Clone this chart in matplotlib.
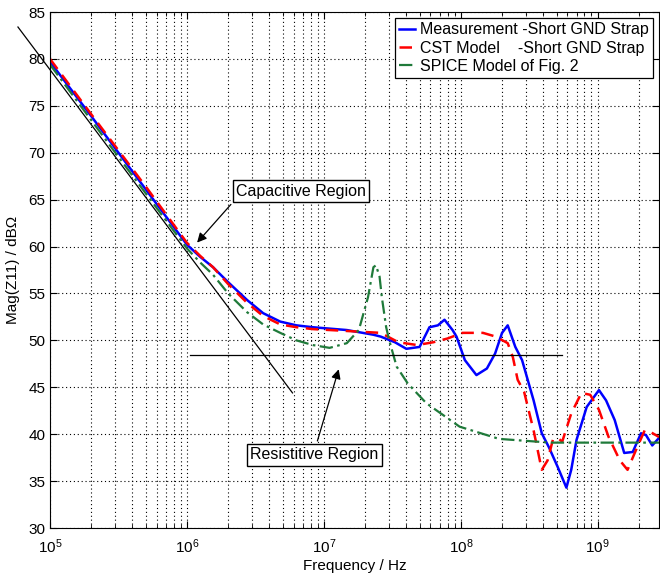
import numpy as np
import matplotlib
matplotlib.use('Agg')
import matplotlib.pyplot as plt
from matplotlib.ticker import LogLocator, NullFormatter

plt.rcParams['font.family'] = ['Liberation Sans', 'DejaVu Sans']

f_meas = [1e5, 2e5, 5e5, 1e6, 1.25e6, 1.55e6, 2e6, 2.75e6, 3.6e6, 4.8e6, 6.3e6, 8.3e6,
          1.47e7, 2.3e7, 2.6e7,
          3.3e7, 4.0e7, 5.0e7, 5.9e7, 6.8e7, 7.6e7, 8.7e7, 9.3e7, 1.07e8, 1.3e8,
          1.55e8, 1.78e8, 2.0e8, 2.2e8, 2.5e8, 2.8e8, 3.4e8, 3.9e8, 4.4e8, 5.1e8,
          5.9e8, 6.4e8, 7.0e8, 8.3e8, 1.02e9, 1.15e9, 1.33e9, 1.56e9, 1.8e9, 2.07e9,
          2.25e9, 2.5e9, 2.8e9]
z_meas = [79.7, 73.9, 66.1, 60.2, 58.9, 57.8, 56.2, 54.3, 52.9, 52.0, 51.6, 51.4,
          51.1, 50.6, 50.4,
          49.8, 49.1, 49.3, 51.4, 51.6, 52.2, 51.1, 50.4, 47.9, 46.3,
          47.0, 48.6, 50.8, 51.6, 49.3, 47.9, 43.6, 40.1, 38.6, 36.5,
          34.3, 36.2, 39.4, 42.9, 44.7, 43.6, 41.5, 38.0, 38.1, 40.1,
          39.9, 38.8, 39.6]

# CST model - short GND strap
f_cst = [1e5, 2e5, 5e5, 1e6, 1.25e6, 1.55e6, 2e6, 2.75e6, 3.6e6, 4.8e6, 6.3e6, 8.3e6,
         1.47e7, 2.6e7, 3.5e7,
         4.8e7, 6.3e7, 8.0e7, 1.03e8, 1.45e8, 1.8e8, 2.2e8, 2.4e8, 2.6e8, 2.9e8,
         3.4e8, 3.9e8, 4.3e8, 4.7e8, 5.1e8, 5.5e8, 6.4e8, 7.6e8, 8.8e8, 1.02e9,
         1.2e9, 1.45e9, 1.65e9, 1.9e9, 2.2e9, 2.45e9, 2.8e9]
z_cst = [80.0, 74.1, 66.4, 60.4, 59.0, 57.8, 56.0, 54.0, 52.6, 51.7, 51.4, 51.2,
         51.0, 50.8, 49.8,
         49.5, 49.8, 50.2, 50.8, 50.8, 50.4, 49.7, 48.2, 45.8, 44.5,
         40.4, 36.2, 37.2, 39.4, 39.6, 39.2, 42.2, 44.4, 44.2, 42.6,
         39.7, 37.2, 36.2, 38.3, 40.4, 40.2, 39.7]

# SPICE model of Fig. 2
f_spice = [1e5, 3e5, 1e6, 1.25e6, 1.55e6, 2e6, 2.75e6, 3.6e6, 4.8e6, 6.3e6, 8.3e6,
           1.1e7, 1.47e7, 1.8e7,
           2.1e7, 2.3e7, 2.4e7, 2.55e7, 2.65e7, 2.85e7, 3.0e7, 3.4e7, 4.1e7,
           5.6e7, 9.8e7, 1.9e8, 4.5e8, 1e9, 2.8e9]
z_spice = [79.4, 70.0, 59.8, 58.3, 57.0, 55.0, 53.0, 51.7, 50.8, 50.0, 49.5,
           49.2, 49.7, 51.1,
           54.6, 57.8, 58.0, 56.8, 54.6, 51.4, 50.0, 47.2, 45.4,
           43.3, 40.8, 39.5, 39.1, 39.1, 39.1]

# helper lines (capacitive slope and resistive level)
cap_f = [10**4.766, 5.9e6]
cap_z = [83.4, 44.4]
res_f = [1.05e6, 5.5e8]
res_z = [48.4, 48.4]

fig = plt.figure(figsize=(6.6, 5.76), dpi=100)
ax = fig.add_axes([50/660, 48/576, 609/660, 516/576])

ax.semilogx(f_meas, z_meas, color='#0000ff', lw=1.8, label='Measurement -Short GND Strap')
ax.semilogx(f_cst, z_cst, color='#ff0000', lw=1.8, ls=(0, (5, 3)), label='CST Model    -Short GND Strap')
ax.semilogx(f_spice, z_spice, color='#1f7a3a', lw=1.6, ls=(0, (6, 2, 1.2, 2)), label='SPICE Model of Fig. 2')
ax.plot(cap_f, cap_z, color='black', lw=0.9, clip_on=False)
ax.plot(res_f, res_z, color='black', lw=0.9)

ax.set_xlim(1e5, 2.8e9)
ax.set_ylim(30, 85)
ax.set_yticks(np.arange(30, 86, 5))
ax.xaxis.set_major_locator(LogLocator(base=10, numticks=12))
ax.xaxis.set_minor_locator(LogLocator(base=10, subs=np.arange(2, 10), numticks=12))
ax.xaxis.set_minor_formatter(NullFormatter())
ax.grid(True, which='major', color='black', ls=(0, (1, 2.5)), lw=0.8)
ax.grid(True, which='minor', axis='x', color='black', ls=(0, (1, 2.5)), lw=0.8)
ax.tick_params(which='both', direction='in', top=True, right=True, labelsize=11)
ax.tick_params(which='major', length=5)
ax.tick_params(which='minor', length=3)
ax.tick_params(axis='x', which='major', pad=7)

ax.set_xlabel('Frequency / Hz', fontsize=11, labelpad=2)
ax.set_ylabel('Mag(Z11) / dB\u03a9', fontsize=11, labelpad=6)

ax.annotate('Capacitive Region', xy=(1.15e6, 60.2), xytext=(6.8e6, 65.9),
            fontsize=11.5, ha='center', va='center',
            bbox=dict(boxstyle='square,pad=0.2', fc='white', ec='black', lw=1),
            arrowprops=dict(arrowstyle='-|>', color='black', lw=0.9,
                            mutation_scale=14, relpos=(0, 0)))
ax.annotate('Resistitive Region', xy=(1.3e7, 47.2), xytext=(8.5e6, 37.8),
            fontsize=11.5, ha='center', va='center',
            bbox=dict(boxstyle='square,pad=0.2', fc='white', ec='black', lw=1),
            arrowprops=dict(arrowstyle='-|>', color='black', lw=0.9,
                            mutation_scale=14, relpos=(0.51, 1)))

leg = ax.legend(loc='upper right', fontsize=11.5, handlelength=1.0, handletextpad=0.3,
                borderpad=0.25, labelspacing=0.2, fancybox=False, framealpha=1,
                edgecolor='black', borderaxespad=0.4)
leg.get_frame().set_linewidth(0.9)

fig.savefig('out.png', dpi=100)
